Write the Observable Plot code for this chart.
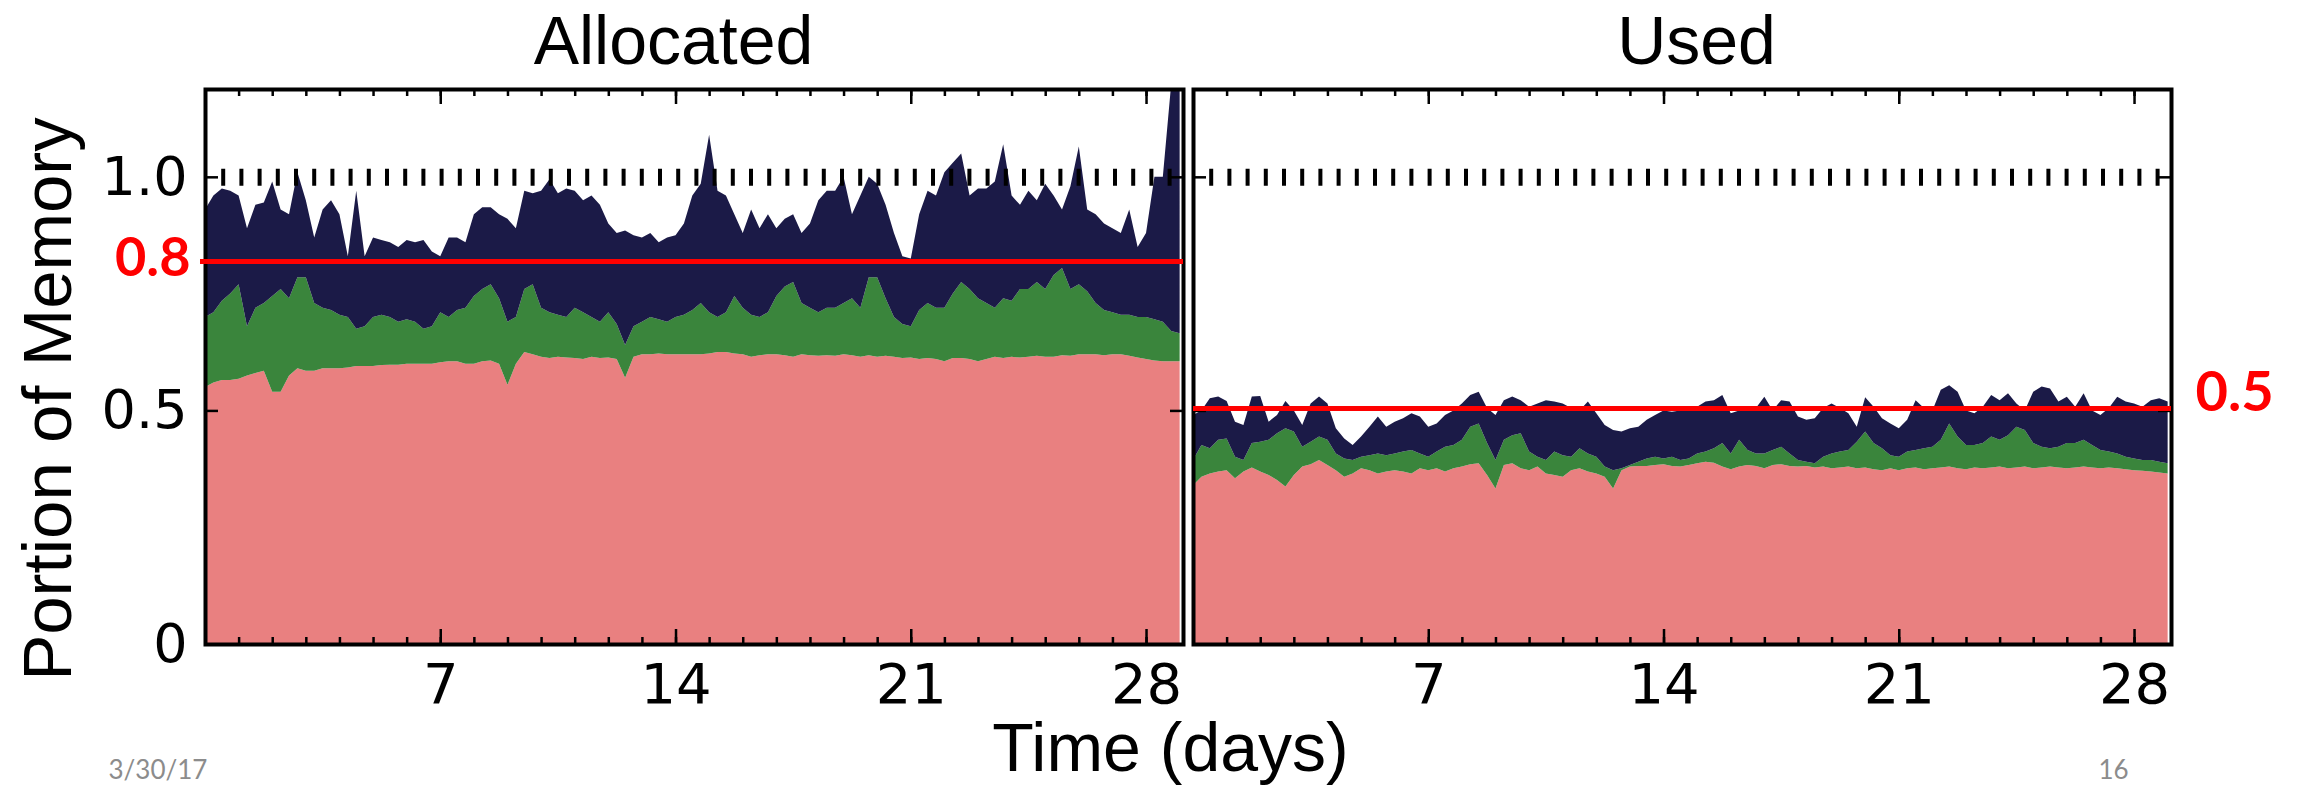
<!DOCTYPE html>
<html><head><meta charset="utf-8">
<script src="https://cdn.jsdelivr.net/npm/d3@7"></script>
<script src="https://cdn.jsdelivr.net/npm/@observablehq/plot@0.6"></script>
<style>
body{margin:0;background:#fff;}
#fig{position:relative;width:2298px;height:789px;overflow:hidden;background:#fff;}
#fig svg{position:absolute;top:0;}
</style></head><body><div id="fig"></div>
<script>
// sample times (days)
const days = [
0,0.25,0.5,0.75, 1,1.25,1.5,1.75, 2,2.25,2.5,2.75, 3,3.25,3.5,3.75, 4,4.25,4.5,4.75,
5,5.25,5.5,5.75, 6,6.25,6.5,6.75, 7,7.25,7.5,7.75, 8,8.25,8.5,8.75, 9,9.25,9.5,9.75,
10,10.25,10.5,10.75, 11,11.25,11.5,11.75, 12,12.25,12.5,12.75, 13,13.25,13.5,13.75, 14,14.25,14.5,14.75,
15,15.25,15.5,15.75, 16,16.25,16.5,16.75, 17,17.25,17.5,17.75, 18,18.25,18.5,18.75, 19,19.25,19.5,19.75,
20,20.25,20.5,20.75, 21,21.25,21.5,21.75, 22,22.25,22.5,22.75, 23,23.25,23.5,23.75, 24,24.25,24.5,24.75,
25,25.25,25.5,25.75, 26,26.25,26.5,26.75, 27,27.25,27.5,27.75, 28,28.25,28.5,28.75, 29];

// Allocated panel: cumulative levels (portion of memory)
const allocPink = [
0.55,0.56,0.565,0.565, 0.568,0.575,0.58,0.585, 0.54,0.54,0.575,0.59, 0.585,0.585,0.59,0.59, 0.59,0.592,0.595,0.595,
0.595,0.597,0.598,0.598, 0.60,0.60,0.60,0.60, 0.603,0.605,0.605,0.60, 0.60,0.605,0.607,0.60, 0.555,0.60,0.625,0.62,
0.615,0.612,0.615,0.613, 0.612,0.61,0.615,0.612, 0.613,0.61,0.57,0.615, 0.62,0.62,0.622,0.62, 0.62,0.62,0.62,0.62,
0.622,0.625,0.625,0.622, 0.62,0.615,0.618,0.62, 0.62,0.618,0.615,0.62, 0.618,0.617,0.618,0.617, 0.62,0.618,0.615,0.618,
0.615,0.617,0.615,0.612, 0.613,0.61,0.612,0.61, 0.605,0.612,0.612,0.61, 0.605,0.61,0.615,0.612, 0.615,0.613,0.615,0.617,
0.615,0.615,0.618,0.617, 0.62,0.62,0.62,0.618, 0.62,0.62,0.617,0.613, 0.61,0.607,0.605,0.605, 0.605];
const allocGreen = [
0.70,0.71,0.735,0.75, 0.77,0.68,0.72,0.73, 0.745,0.76,0.74,0.785, 0.785,0.73,0.72,0.715, 0.705,0.70,0.675,0.68,
0.70,0.705,0.70,0.69, 0.695,0.69,0.675,0.68, 0.71,0.70,0.715,0.72, 0.745,0.76,0.77,0.74, 0.69,0.70,0.76,0.77,
0.72,0.71,0.705,0.70, 0.72,0.71,0.70,0.69, 0.71,0.685,0.64,0.68, 0.69,0.70,0.695,0.69, 0.70,0.705,0.715,0.73,
0.71,0.70,0.71,0.745, 0.72,0.705,0.70,0.71, 0.745,0.765,0.775,0.73, 0.72,0.71,0.72,0.72, 0.73,0.74,0.72,0.785,
0.785,0.74,0.70,0.685, 0.68,0.715,0.73,0.72, 0.72,0.75,0.775,0.76, 0.74,0.73,0.72,0.74, 0.735,0.76,0.76,0.775,
0.76,0.79,0.805,0.76, 0.77,0.755,0.73,0.715, 0.71,0.705,0.705,0.70, 0.70,0.695,0.69,0.67, 0.665];
const allocNavy = [
0.93,0.96,0.975,0.97, 0.96,0.89,0.94,0.945, 0.99,0.93,0.92,1.01, 0.95,0.87,0.93,0.95, 0.92,0.83,0.97,0.83,
0.87,0.865,0.86,0.85, 0.865,0.86,0.865,0.84, 0.83,0.87,0.87,0.86, 0.92,0.935,0.935,0.92, 0.91,0.89,0.97,0.965,
0.97,0.995,0.965,0.975, 0.97,0.95,0.96,0.94, 0.90,0.88,0.885,0.875, 0.87,0.88,0.86,0.87, 0.875,0.90,0.96,0.985,
1.09,0.97,0.96,0.92, 0.88,0.93,0.89,0.92, 0.89,0.91,0.92,0.88, 0.90,0.95,0.97,0.97, 1.0,0.92,0.96,1.0,
0.985,0.94,0.88,0.83, 0.825,0.92,0.97,0.96, 1.01,1.03,1.05,0.96, 0.975,0.975,0.99,1.07, 0.96,0.94,0.97,0.95,
0.985,0.96,0.93,0.98, 1.065,0.93,0.92,0.90, 0.89,0.88,0.93,0.85, 0.88,1.0,1.0,1.2, 1.2];

// Used panel
const usedPink = [
0.34,0.358,0.365,0.369, 0.372,0.355,0.369,0.378, 0.369,0.362,0.351,0.337, 0.362,0.38,0.385,0.394, 0.383,0.372,0.358,0.365,
0.376,0.372,0.365,0.369, 0.372,0.369,0.365,0.376, 0.372,0.376,0.369,0.376, 0.38,0.385,0.387,0.362, 0.333,0.383,0.387,0.376,
0.372,0.38,0.365,0.362, 0.358,0.372,0.376,0.369, 0.365,0.358,0.333,0.372, 0.38,0.381,0.381,0.383, 0.385,0.381,0.38,0.383,
0.387,0.39,0.388,0.38, 0.374,0.38,0.383,0.381, 0.376,0.383,0.385,0.381, 0.38,0.381,0.378,0.38, 0.376,0.378,0.38,0.376,
0.378,0.374,0.372,0.376, 0.372,0.376,0.378,0.374, 0.376,0.378,0.38,0.376, 0.374,0.378,0.376,0.378, 0.38,0.376,0.378,0.38,
0.376,0.378,0.38,0.378, 0.376,0.378,0.38,0.378, 0.376,0.378,0.376,0.374, 0.372,0.371,0.369,0.367, 0.365];
const usedGreen = [
0.394,0.426,0.419,0.437, 0.44,0.401,0.394,0.43, 0.433,0.437,0.451,0.462, 0.455,0.422,0.433,0.444, 0.437,0.408,0.397,0.394,
0.401,0.404,0.408,0.404, 0.408,0.412,0.415,0.408, 0.401,0.412,0.422,0.426, 0.437,0.465,0.472,0.43, 0.394,0.437,0.447,0.451,
0.412,0.401,0.394,0.412, 0.404,0.401,0.419,0.408, 0.401,0.38,0.372,0.376, 0.383,0.39,0.397,0.401, 0.397,0.401,0.394,0.397,
0.408,0.412,0.419,0.43, 0.408,0.437,0.415,0.408, 0.408,0.415,0.422,0.408, 0.394,0.39,0.387,0.401, 0.408,0.412,0.415,0.433,
0.455,0.43,0.419,0.404, 0.401,0.412,0.415,0.419, 0.422,0.437,0.472,0.444, 0.426,0.426,0.43,0.444, 0.437,0.447,0.465,0.458,
0.43,0.422,0.419,0.422, 0.43,0.43,0.437,0.426, 0.415,0.412,0.408,0.401, 0.397,0.394,0.394,0.39, 0.387];
const usedNavy = [
0.49,0.50,0.526,0.53, 0.52,0.476,0.469,0.53, 0.531,0.476,0.49,0.52, 0.50,0.469,0.515,0.53, 0.515,0.462,0.44,0.426,
0.444,0.465,0.487,0.465, 0.476,0.483,0.494,0.487, 0.465,0.472,0.49,0.50, 0.515,0.533,0.54,0.505, 0.49,0.522,0.53,0.522,
0.508,0.515,0.522,0.519, 0.515,0.505,0.50,0.519, 0.494,0.469,0.458,0.455, 0.462,0.465,0.48,0.49, 0.50,0.497,0.50,0.505,
0.508,0.519,0.522,0.533, 0.494,0.50,0.508,0.505, 0.529,0.50,0.522,0.519, 0.487,0.48,0.483,0.505, 0.515,0.505,0.494,0.465,
0.528,0.508,0.483,0.472, 0.462,0.48,0.522,0.505, 0.50,0.544,0.554,0.54, 0.50,0.494,0.508,0.533, 0.522,0.537,0.515,0.50,
0.54,0.551,0.547,0.519, 0.529,0.508,0.537,0.50, 0.49,0.505,0.529,0.519, 0.515,0.508,0.522,0.526, 0.519];

const panelTitles = ["Allocated", "Used"];
const xTickDays = [7, 14, 21, 28];
const minorDays = [1,2,3,4,5,6,7,8,9,10,11,12,13,14,15,16,17,18,19,20,21,22,23,24,25,26,27,28];
const yTickValues = [0, 0.5, 1.0];
const yTickLabels = ["0", "0.5", "1.0"];
const capacity = [1.0];
const allocThreshold = [0.82];
const allocThresholdLabel = ["0.8"];
const usedThreshold = [0.505];
const usedThresholdLabel = ["0.5"];
const yAxisLabel = "Portion of Memory";
const xAxisLabel = "Time (days)";
const dateText = "3/30/17";
const pageText = "16";

const PINK = "#e98080", GREEN = "#3a853c", NAVY = "#1b1a47", RED = "#ff0000";
const TICKFONT = "DejaVu Sans", LABELFONT = "Liberation Sans, Arial, sans-serif", SLIDEFONT = "Lato, Open Sans, sans-serif";
const FRAME_W = 978, FRAME_H = 555;

function rowsOf(pink, green, navy) {
  return days.map((d, i) => ({day: d, pink: pink[i], green: green[i], navy: navy[i]}));
}

function panelMarks(rows) {
  return [
    Plot.area(rows, {x1: "day", y1: 0, y2: "pink", fill: PINK, curve: "linear", clip: true}),
    Plot.area(rows, {x1: "day", y1: "pink", y2: "green", fill: GREEN, curve: "linear", clip: true}),
    Plot.area(rows, {x1: "day", y1: "green", y2: "navy", fill: NAVY, curve: "linear", clip: true}),
    Plot.ruleY(capacity, {y: d => d, stroke: "black", strokeWidth: 17, strokeDasharray: "4,14.2", strokeDashoffset: 2}),
    Plot.tickX(minorDays, {x: d => d, insetTop: FRAME_H - 7, stroke: "black", strokeWidth: 2.5}),
    Plot.tickX(minorDays, {x: d => d, insetBottom: FRAME_H - 7, stroke: "black", strokeWidth: 2.5}),
    Plot.tickX(xTickDays, {x: d => d, insetTop: FRAME_H - 15, stroke: "black", strokeWidth: 2.5}),
    Plot.tickX(xTickDays, {x: d => d, insetBottom: FRAME_H - 15, stroke: "black", strokeWidth: 2.5}),
    Plot.tickY(yTickValues, {y: d => d, insetRight: FRAME_W - 13, stroke: "black", strokeWidth: 2.5}),
    Plot.tickY(yTickValues, {y: d => d, insetLeft: FRAME_W - 13, stroke: "black", strokeWidth: 2.5}),
    Plot.frame({stroke: "black", strokeWidth: 4}),
    Plot.text(xTickDays, {x: d => d, text: d => String(d), frameAnchor: "bottom", dy: 19, lineAnchor: "top",
      fontSize: 56, fontFamily: TICKFONT, fill: "black"})
  ];
}

const common = {
  height: 789, marginTop: 89, marginBottom: 145,
  x: {domain: [0, 29.1], axis: null},
  y: {domain: [0, 1.188], axis: null},
  style: {background: "transparent", overflow: "visible"}
};

// Right panel: Used
const rightPlot = Plot.plot({
  ...common,
  width: 1110, marginLeft: 5, marginRight: 127,
  marks: [
    ...panelMarks(rowsOf(usedPink, usedGreen, usedNavy)),
    Plot.ruleY(usedThreshold, {y: d => d, stroke: RED, strokeWidth: 5}),
    Plot.text(usedThreshold, {y: d => d, text: usedThresholdLabel, frameAnchor: "right", textAnchor: "start", dx: 24, dy: -16,
      lineAnchor: "middle", fontSize: 56, fontWeight: "bold", fontFamily: SLIDEFONT, fill: RED}),
    Plot.text([panelTitles[1]], {text: d => d, frameAnchor: "top", textAnchor: "middle", dx: 14, dy: -26, lineAnchor: "bottom",
      fontSize: 68, fontFamily: LABELFONT, fill: "black"}),
    Plot.text([pageText], {text: d => d, frameAnchor: "bottom-right", textAnchor: "start", dx: -73, dy: 134,
      lineAnchor: "bottom", fontSize: 26, fontFamily: SLIDEFONT, fill: "#8c8c8c"})
  ]
});
rightPlot.style.left = "1188px";

// Left panel: Allocated
const leftPlot = Plot.plot({
  ...common,
  width: 1188, marginLeft: 205, marginRight: 5,
  marks: [
    ...panelMarks(rowsOf(allocPink, allocGreen, allocNavy)),
    Plot.ruleY(allocThreshold, {y: d => d, stroke: RED, strokeWidth: 5, insetLeft: -5}),
    Plot.text(allocThreshold, {y: d => d, text: allocThresholdLabel, frameAnchor: "left", textAnchor: "end", dx: -15, dy: -3,
      lineAnchor: "middle", fontSize: 54, fontWeight: "bold", fontFamily: SLIDEFONT, fill: RED}),
    Plot.text(yTickValues, {y: d => d, text: (d, i) => yTickLabels[i], frameAnchor: "left", textAnchor: "end", dx: -18,
      lineAnchor: "middle", fontSize: 54, fontFamily: TICKFONT, fill: "black"}),
    Plot.text([panelTitles[0]], {text: d => d, frameAnchor: "top", textAnchor: "middle", dx: -21, dy: -26, lineAnchor: "bottom",
      fontSize: 68, fontFamily: LABELFONT, fill: "black"}),
    Plot.text([yAxisLabel], {text: d => d, frameAnchor: "left", textAnchor: "middle", dx: -135, dy: 32, rotate: -90, lineAnchor: "bottom",
      fontSize: 69, fontFamily: LABELFONT, fill: "black"}),
    Plot.text([xAxisLabel], {text: d => d, frameAnchor: "bottom", textAnchor: "middle", dx: 476, dy: 126, lineAnchor: "bottom",
      fontSize: 68, fontFamily: LABELFONT, fill: "black"}),
    Plot.text([dateText], {text: d => d, frameAnchor: "bottom-left", textAnchor: "start", dx: -97, dy: 134,
      lineAnchor: "bottom", fontSize: 26, fontFamily: SLIDEFONT, fill: "#8c8c8c"})
  ]
});
leftPlot.style.left = "0px";

const fig = document.getElementById("fig");
fig.appendChild(rightPlot);
fig.appendChild(leftPlot);
</script>
</body></html>
